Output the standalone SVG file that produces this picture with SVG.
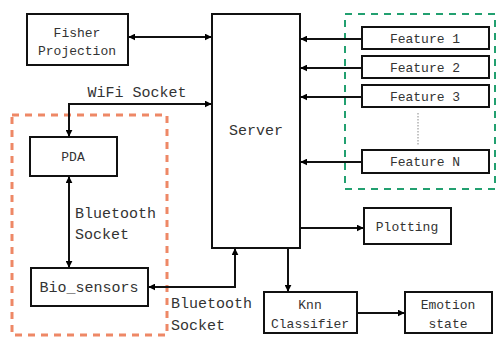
<svg xmlns="http://www.w3.org/2000/svg" width="497" height="338" viewBox="0 0 497 338">
<defs>
<marker id="ah" viewBox="0 0 10 10" refX="9" refY="5" markerWidth="7" markerHeight="7" markerUnits="userSpaceOnUse" orient="auto-start-reverse">
<path d="M0,0 L10,5 L0,10 z" fill="#000"/>
</marker>
<style>
.box{fill:none;stroke:#111;stroke-width:2}
.t{font-family:"Liberation Mono",monospace;font-size:13px;fill:#333;text-anchor:middle}
.L{font-size:15px}
.c{stroke:#111;stroke-width:2;fill:none}
</style>
</defs>
<rect width="497" height="338" fill="#fff"/>
<rect x="12" y="115" width="155" height="220" fill="none" stroke="#ee8866" stroke-width="3" stroke-dasharray="7,6"/>
<rect x="345" y="14" width="150" height="175" fill="none" stroke="#22a070" stroke-width="2" stroke-dasharray="7,6"/>
<line x1="418" y1="113" x2="418" y2="146" stroke="#888" stroke-width="1" stroke-dasharray="1.5,1.5"/>
<g id="server"><rect class="box" x="212" y="14" width="88" height="234"/><text class="t L" x="256" y="135">Server</text></g>
<g id="fisher"><rect class="box" x="27" y="14" width="101" height="51"/><text class="t" x="77" y="37">Fisher</text><text class="t" x="77" y="55">Projection</text></g>
<g id="pda"><rect class="box" x="30" y="137" width="87" height="39"/><text class="t" x="73" y="161">PDA</text></g>
<g id="bio"><rect class="box" x="31" y="268" width="117" height="38"/><text class="t L" x="89" y="292">Bio_sensors</text></g>
<g id="f1"><rect class="box" x="362" y="27" width="127" height="22"/><text class="t" x="425" y="43">Feature 1</text></g>
<g id="f2"><rect class="box" x="362" y="56" width="127" height="22"/><text class="t" x="425" y="72">Feature 2</text></g>
<g id="f3"><rect class="box" x="362" y="85" width="127" height="22"/><text class="t" x="425" y="101">Feature 3</text></g>
<g id="fn"><rect class="box" x="362" y="150" width="127" height="23"/><text class="t" x="425" y="166">Feature N</text></g>
<g id="plot"><rect class="box" x="364" y="208" width="87" height="36"/><text class="t" x="407" y="231">Plotting</text></g>
<g id="knn"><rect class="box" x="264" y="292" width="93" height="41"/><text class="t" x="310" y="309">Knn</text><text class="t" x="310" y="328">Classifier</text></g>
<g id="emo"><rect class="box" x="405" y="292" width="87" height="41"/><text class="t" x="448" y="309">Emotion</text><text class="t" x="448" y="328">state</text></g>
<g id="connectors">
<line class="c" x1="129" y1="37" x2="211" y2="37" marker-start="url(#ah)" marker-end="url(#ah)"/>
<polyline class="c" points="211,104 69,104 69,136" marker-start="url(#ah)" marker-end="url(#ah)"/>
<line class="c" x1="69" y1="177" x2="69" y2="267" marker-start="url(#ah)" marker-end="url(#ah)"/>
<polyline class="c" points="149,287 235,287 235,249" marker-start="url(#ah)" marker-end="url(#ah)"/>
<line class="c" x1="362" y1="39" x2="301" y2="39" marker-end="url(#ah)"/>
<line class="c" x1="362" y1="68" x2="301" y2="68" marker-end="url(#ah)"/>
<line class="c" x1="362" y1="97" x2="301" y2="97" marker-end="url(#ah)"/>
<line class="c" x1="362" y1="162" x2="301" y2="162" marker-end="url(#ah)"/>
<line class="c" x1="300" y1="228" x2="363" y2="228" marker-end="url(#ah)"/>
<line class="c" x1="288" y1="248" x2="288" y2="291" marker-end="url(#ah)"/>
<line class="c" x1="357" y1="313" x2="404" y2="313" marker-end="url(#ah)"/>
</g>
<text class="t L" x="137" y="97">WiFi Socket</text>
<text class="t L" x="75" y="218" style="text-anchor:start">Bluetooth</text>
<text class="t L" x="75" y="239" style="text-anchor:start">Socket</text>
<text class="t L" x="171" y="308" style="text-anchor:start">Bluetooth</text>
<text class="t L" x="171" y="330" style="text-anchor:start">Socket</text>
</svg>
